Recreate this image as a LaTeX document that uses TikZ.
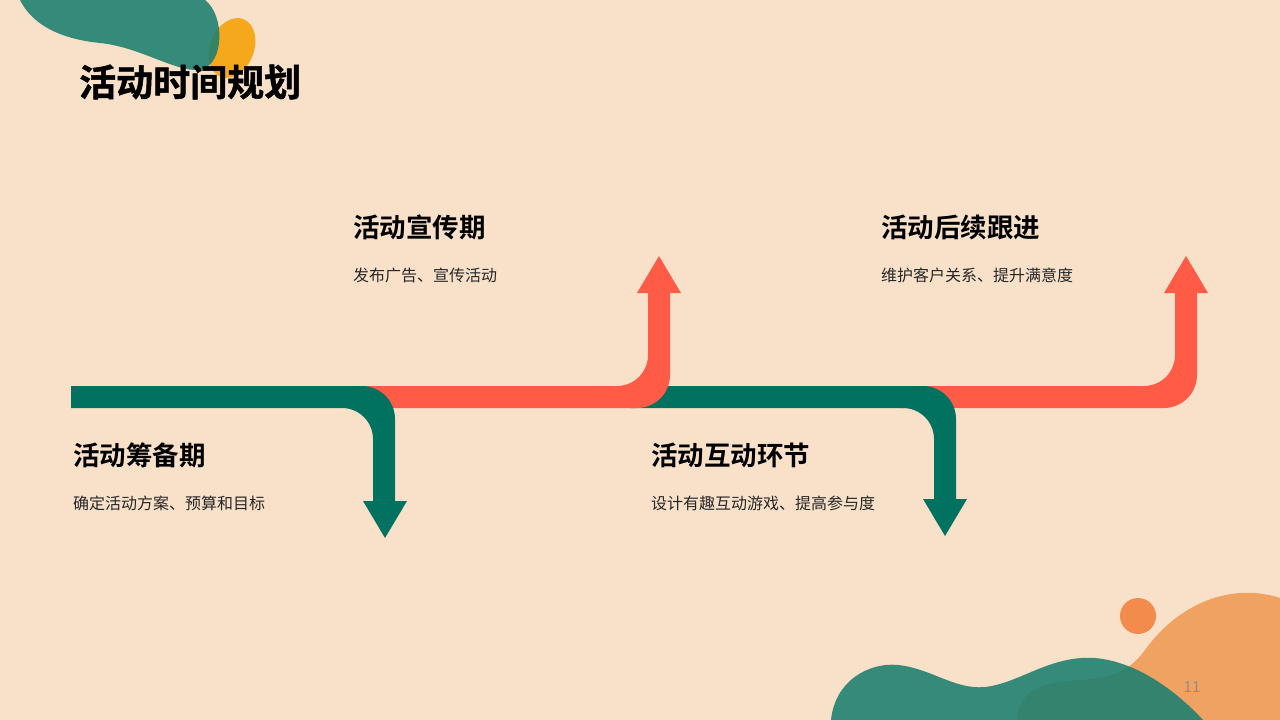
\documentclass[tikz,border=0pt]{standalone}
\usepackage{fontspec}
\setmainfont{Noto Sans CJK SC}
\newfontfamily\cjkbold{Noto Sans CJK SC Bold}
\newfontfamily\cjktitle[FakeBold=1.3]{Noto Sans CJK SC Bold}
\definecolor{bgc}{HTML}{F9E1C9}
\definecolor{teal}{HTML}{00725F}
\definecolor{coral}{HTML}{FF5B47}
\definecolor{blobteal}{HTML}{1A7F70}
\definecolor{blobyellow}{HTML}{F5A81C}
\definecolor{blobora}{HTML}{F0A262}
\definecolor{dotora}{HTML}{F28B4B}
\definecolor{bodytxt}{HTML}{262626}
\tikzset{
  headtxt/.style={anchor=west,inner sep=0pt,font=\cjkbold\fontsize{26.5}{30}\selectfont,text=black},
  bodytext/.style={anchor=west,inner sep=0pt,font=\fontsize{16}{20}\selectfont,text=bodytxt},
}
\begin{document}
\begin{tikzpicture}[x=1pt,y=-1pt]
\useasboundingbox (0,0) rectangle (1280,720);
\fill[bgc] (0,0) rectangle (1280,720);
% top-left decoration
\fill[blobyellow,rotate around={-22:(232,48)}] (232,48) ellipse [x radius=22, y radius=31];
\fill[blobteal,opacity=0.88] (20,0) .. controls (35,30) and (70,40) .. (100,43) .. controls (140,47) and (175,72) .. (200,70) .. controls (225,65) and (225,15) .. (205,0) -- cycle;
% bottom-right decoration
\fill[dotora] (1138,616) circle (18);
\fill[blobora] (1017,720) .. controls (1020,690) and (1040,682) .. (1080,680) .. controls (1115,678) and (1130,670) .. (1145,650) .. controls (1170,615) and (1210,590) .. (1255,593) .. controls (1265,594) and (1275,596) .. (1280,598) -- (1280,720) -- cycle;
\fill[blobteal,opacity=0.88] (831,720) .. controls (835,680) and (870,662) .. (898,665) .. controls (930,668) and (955,690) .. (985,687) .. controls (1020,683) and (1050,655) .. (1095,658) .. controls (1140,662) and (1180,695) .. (1203,720) -- cycle;
% red 2 (up)
\fill[coral] (900,408) -- (1164,408) .. controls (1182.2,408) and (1197,393.2) .. (1197,375) -- (1197,292) -- (1175,292) -- (1175,355) .. controls (1175,372.1) and (1161.1,386) .. (1144,386) -- (900,386) -- cycle;
\fill[coral] (1164,293) -- (1208,293) -- (1186,256) -- cycle;
% green 2 (down)
\fill[teal] (630,386) -- (923,386) .. controls (941.2,386) and (956,400.8) .. (956,419) -- (956,500) -- (934,500) -- (934,439) .. controls (934,421.9) and (920.1,408) .. (903,408) -- (630,408) -- cycle;
\fill[teal] (923,499) -- (967,499) -- (945,536) -- cycle;
% red 1 (up)
\fill[coral] (360,408) -- (637,408) .. controls (655.2,408) and (670,393.2) .. (670,375) -- (670,292) -- (648,292) -- (648,355) .. controls (648,372.1) and (634.1,386) .. (617,386) -- (360,386) -- cycle;
\fill[coral] (637,293) -- (681,293) -- (659,256) -- cycle;
% green 1 (down)
\fill[teal] (71,386) -- (362,386) .. controls (380.2,386) and (395,400.8) .. (395,419) -- (395,502) -- (373,502) -- (373,439) .. controls (373,421.9) and (359.1,408) .. (342,408) -- (71,408) -- cycle;
\fill[teal] (363,501) -- (407,501) -- (385,538) -- cycle;
% texts
\node[anchor=west,inner sep=0pt,font=\cjktitle\fontsize{37}{41}\selectfont] (title) at (79,82) {活动时间规划};
\node[headtxt] (h1) at (73,455) {活动筹备期};
\node[bodytext] (b1) at (73,503) {确定活动方案、预算和目标};
\node[headtxt] (h2) at (353,227) {活动宣传期};
\node[bodytext] (b2) at (353,275) {发布广告、宣传活动};
\node[headtxt] (h3) at (651,455) {活动互动环节};
\node[bodytext] (b3) at (651,503) {设计有趣互动游戏、提高参与度};
\node[headtxt] (h4) at (881,227) {活动后续跟进};
\node[bodytext] (b4) at (881,275) {维护客户关系、提升满意度};
\node[inner sep=0pt,font=\fontsize{15}{17}\selectfont,text=black!45] (pg) at (1192,687) {11};
\end{tikzpicture}
\end{document}
